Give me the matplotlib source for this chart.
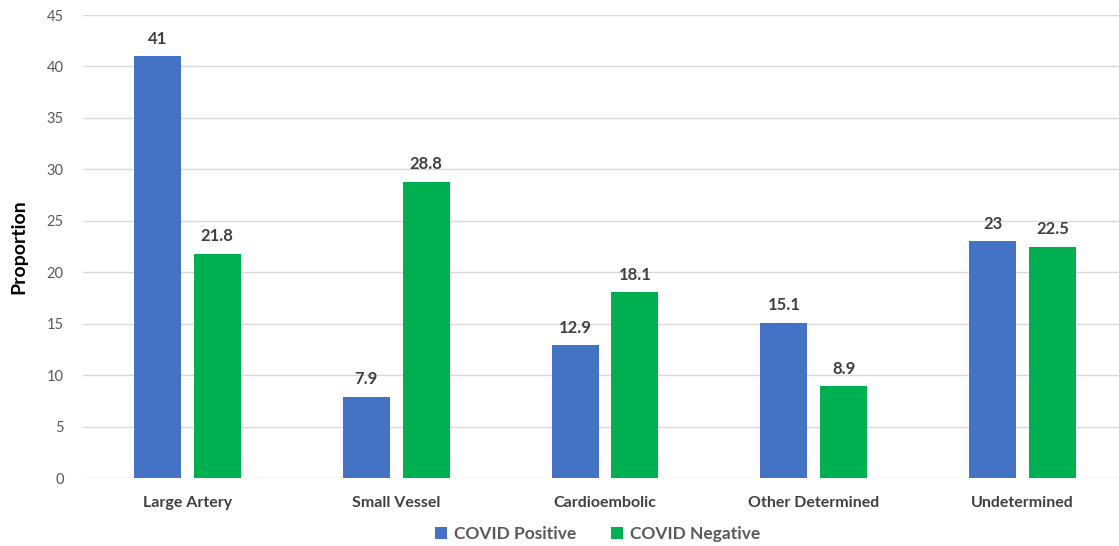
import matplotlib.pyplot as plt
import numpy as np

# data
categories = ["Large Artery", "Small Vessel", "Cardioembolic", "Other Determined", "Undetermined"]
covid_pos = [41, 7.9, 12.9, 15.1, 23]
covid_neg = [21.8, 28.8, 18.1, 8.9, 22.5]

plt.rcParams['font.family'] = ['Lato', 'DejaVu Sans']

fig = plt.figure(figsize=(11.19, 5.46), dpi=100)
ax = fig.add_axes([0.0742, 0.1245, 0.933, 0.848])

x = np.arange(len(categories))
w = 0.225
off = 0.143
b1 = ax.bar(x - off, covid_pos, w, color="#4472C4", label="COVID Positive")
b2 = ax.bar(x + off, covid_neg, w, color="#00B050", label="COVID Negative")

for bars, vals in [(b1, covid_pos), (b2, covid_neg)]:
    for r, v in zip(bars, vals):
        ax.text(r.get_x() + r.get_width() / 2, v + 0.9, f"{v:g}", ha="center", va="bottom",
                fontsize=12, fontweight="bold", color="#404040")

ax.set_xlim(-0.5, 4.5)
ax.set_ylim(0, 45)
ax.set_yticks(range(0, 46, 5))
ax.set_xticks(x)
ax.set_xticklabels(categories, fontsize=11.5, fontweight="bold", color="#404040")
ax.tick_params(axis="y", labelsize=10.5, labelcolor="#595959", length=0, pad=14)
ax.tick_params(axis="x", length=0, pad=13)
ax.grid(axis="y", color="#D9D9D9", linewidth=1)
ax.set_axisbelow(True)
for s in ax.spines.values():
    s.set_visible(False)

ax.set_ylabel("Proportion", fontsize=14, fontweight="bold", color="black", labelpad=14)

leg = fig.legend(loc="lower center", bbox_to_anchor=(0.534, -0.022), ncol=2, frameon=False,
                 prop={"size": 12.5, "weight": "bold"}, handlelength=0.7, handleheight=0.7,
                 handletextpad=0.4, columnspacing=2.0)
for t in leg.get_texts():
    t.set_color("#595959")

fig.savefig("out.png", dpi=100)
